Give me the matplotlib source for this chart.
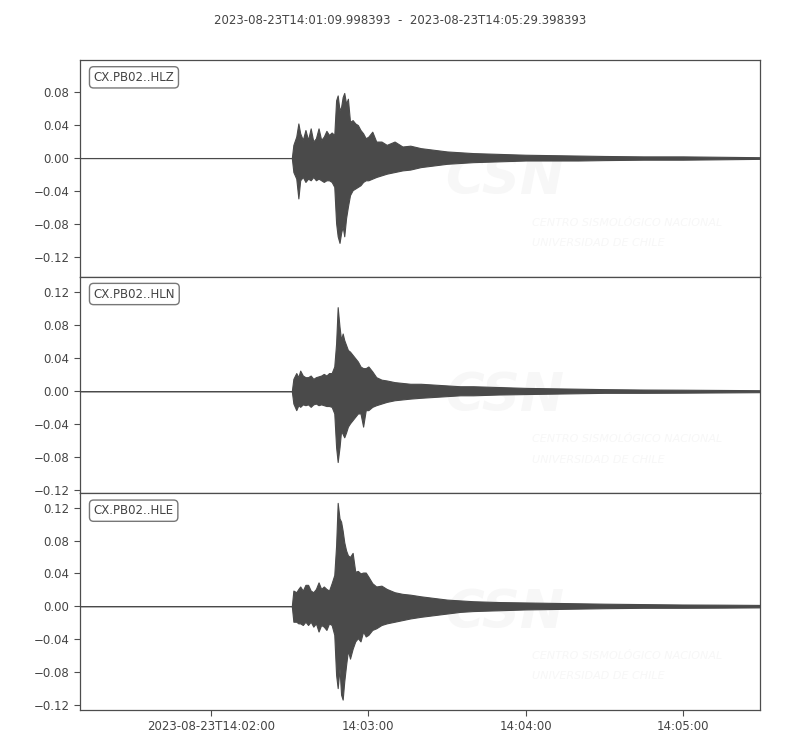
import datetime as dt
import numpy as np
import matplotlib
matplotlib.use("Agg")
import matplotlib.pyplot as plt
import matplotlib.dates as mdates
from matplotlib.ticker import MultipleLocator, FuncFormatter

# ---------------- data ----------------
start = dt.datetime(2023, 8, 23, 14, 1, 9, 998393)
duration_s = 259.4
title_text = "2023-08-23T14:01:09.998393  -  2023-08-23T14:05:29.398393"
channels = ["CX.PB02..HLZ", "CX.PB02..HLN", "CX.PB02..HLE"]

# seconds since start at which the envelope was read
t_sec = [0.0, 80.8, 81.4, 82.5, 83.3, 84.0, 85.0, 86.0, 87.0, 88.0, 89.0, 90.0,
         91.0, 92.0, 93.0, 94.0, 95.0, 96.0, 97.0, 97.7, 98.3, 99.0, 99.6, 100.2,
         100.8, 101.5, 102.2, 103.0, 104.0, 105.0, 106.0, 107.0, 108.0, 109.0,
         110.0, 111.5, 113.0, 115.0, 117.0, 120.0, 123.0, 126.0, 130.0, 135.0,
         140.0, 145.0, 150.0, 160.0, 170.0, 180.0, 190.0, 200.0, 215.0, 230.0,
         245.0, 259.4]

hlz_up = [0, 0, 0.016, 0.026, 0.042, 0.030, 0.022, 0.034, 0.022, 0.036, 0.020, 0.024,
          0.036, 0.022, 0.026, 0.033, 0.028, 0.031, 0.028, 0.070, 0.076, 0.058, 0.062,
          0.074, 0.079, 0.066, 0.072, 0.044, 0.046, 0.042, 0.040, 0.034, 0.030, 0.024,
          0.026, 0.032, 0.020, 0.020, 0.016, 0.020, 0.014, 0.015, 0.012, 0.010, 0.008,
          0.007, 0.006, 0.005, 0.004, 0.0035, 0.003, 0.0025, 0.002, 0.002, 0.0015, 0.001]
hlz_lo = [0, 0, -0.017, -0.025, -0.049, -0.027, -0.023, -0.029, -0.025, -0.027, -0.023,
          -0.027, -0.025, -0.027, -0.029, -0.027, -0.027, -0.029, -0.035, -0.079, -0.095,
          -0.103, -0.091, -0.083, -0.095, -0.073, -0.059, -0.045, -0.039, -0.037, -0.035,
          -0.033, -0.029, -0.027, -0.027, -0.025, -0.023, -0.021, -0.019, -0.017, -0.015,
          -0.014, -0.011, -0.009, -0.007, -0.006, -0.005, -0.004, -0.003, -0.003, -0.003,
          -0.0025, -0.002, -0.002, -0.0015, -0.001]

hln_up = [0, 0, 0.015, 0.022, 0.017, 0.025, 0.019, 0.017, 0.017, 0.019, 0.015, 0.017,
          0.018, 0.019, 0.021, 0.019, 0.022, 0.022, 0.030, 0.058, 0.102, 0.078, 0.062,
          0.070, 0.062, 0.056, 0.050, 0.048, 0.044, 0.040, 0.036, 0.030, 0.028, 0.028,
          0.030, 0.024, 0.017, 0.014, 0.013, 0.011, 0.010, 0.009, 0.009, 0.008, 0.007,
          0.006, 0.006, 0.005, 0.004, 0.0035, 0.003, 0.0025, 0.002, 0.0018, 0.0015, 0.0012]
hln_lo = [0, 0, -0.015, -0.023, -0.017, -0.019, -0.016, -0.017, -0.016, -0.019, -0.016,
          -0.015, -0.017, -0.016, -0.017, -0.018, -0.018, -0.019, -0.027, -0.068, -0.086,
          -0.068, -0.048, -0.052, -0.056, -0.050, -0.043, -0.039, -0.035, -0.031, -0.027,
          -0.027, -0.043, -0.023, -0.023, -0.019, -0.017, -0.015, -0.013, -0.011, -0.010,
          -0.009, -0.008, -0.007, -0.006, -0.005, -0.005, -0.004, -0.0035, -0.003, -0.0025,
          -0.002, -0.002, -0.0018, -0.0015, -0.0012]

hle_up = [0, 0, 0.019, 0.017, 0.021, 0.024, 0.019, 0.026, 0.026, 0.019, 0.017, 0.021,
          0.029, 0.021, 0.024, 0.021, 0.019, 0.028, 0.038, 0.074, 0.126, 0.107, 0.103,
          0.092, 0.078, 0.068, 0.062, 0.060, 0.065, 0.042, 0.043, 0.040, 0.041, 0.041,
          0.036, 0.028, 0.024, 0.025, 0.021, 0.017, 0.015, 0.014, 0.012, 0.010, 0.008,
          0.007, 0.006, 0.005, 0.0045, 0.004, 0.0035, 0.003, 0.0025, 0.002, 0.0018, 0.0015]
hle_lo = [0, 0, -0.019, -0.019, -0.021, -0.021, -0.023, -0.019, -0.023, -0.019, -0.025,
          -0.021, -0.031, -0.023, -0.025, -0.029, -0.021, -0.023, -0.035, -0.084, -0.100,
          -0.076, -0.108, -0.114, -0.092, -0.072, -0.054, -0.064, -0.052, -0.043, -0.039,
          -0.043, -0.031, -0.037, -0.035, -0.029, -0.027, -0.023, -0.021, -0.019, -0.017,
          -0.015, -0.013, -0.011, -0.009, -0.007, -0.006, -0.005, -0.004, -0.0035, -0.003,
          -0.0025, -0.002, -0.002, -0.0018, -0.0015]

y_limits = [(-0.144, 0.119), (-0.124, 0.139), (-0.1267, 0.1376)]
# -------------------------------------

wave_color = "#4a4a4a"
text_color = "#444444"
spine_color = "#4d4d4d"
wm_color = "#f7f7f7"

plt.rcParams["font.family"] = ["DejaVu Sans"]
plt.rcParams["font.size"] = 8.5

fig = plt.figure(figsize=(8, 7.5), dpi=100)
left, right, top, bottom = 0.1, 0.95, 0.92, 0.0533
h = (top - bottom) / 3.0

x0 = mdates.date2num(start)
xs = x0 + np.asarray(t_sec) / 86400.0
x_end = x0 + duration_s / 86400.0

series = [(hlz_up, hlz_lo), (hln_up, hln_lo), (hle_up, hle_lo)]

axes = []
for i, (ch, (up, lo), yl) in enumerate(zip(channels, series, y_limits)):
    ax = fig.add_axes([left, top - (i + 1) * h, right - left, h],
                      sharex=axes[0] if axes else None)
    axes.append(ax)
    ax.fill_between(xs, lo, up, facecolor=wave_color, edgecolor=wave_color,
                    linewidth=0.8, zorder=3)
    ax.set_xlim(x0, x_end)
    ax.set_ylim(*yl)
    ax.yaxis.set_major_locator(MultipleLocator(0.04))
    for s in ax.spines.values():
        s.set_color(spine_color)
        s.set_linewidth(0.9)
    ax.tick_params(axis="both", colors=spine_color, labelcolor=text_color,
                   labelsize=8.5, length=4, width=0.8, direction="out")
    ax.text(0.02, 0.95, ch, transform=ax.transAxes, ha="left", va="top",
            fontsize=8.5, color=text_color, zorder=5,
            bbox=dict(boxstyle="round,pad=0.35", facecolor="white",
                      edgecolor="#777777", linewidth=1.0))
    # faint watermark
    ax.text(0.625, 0.45, "CSN", transform=ax.transAxes, ha="center", va="center",
            fontsize=38, fontweight="bold", fontstyle="italic", color=wm_color,
            zorder=1, clip_on=True)
    ax.text(0.665, 0.25, "CENTRO SISMOLÓGICO NACIONAL", transform=ax.transAxes,
            ha="left", va="center", fontsize=8, fontstyle="italic",
            color=wm_color, zorder=1, clip_on=True)
    ax.text(0.665, 0.155, "UNIVERSIDAD DE CHILE", transform=ax.transAxes,
            ha="left", va="center", fontsize=8, fontstyle="italic",
            color=wm_color, zorder=1, clip_on=True)
    if i < 2:
        ax.tick_params(axis="x", bottom=False, labelbottom=False)

axb = axes[-1]
axb.xaxis.set_major_locator(mdates.MinuteLocator())


def fmt(x, pos):
    d = mdates.num2date(x)
    if pos == 0:
        return d.strftime("%Y-%m-%dT%H:%M:%S")
    return d.strftime("%H:%M:%S")


axb.xaxis.set_major_formatter(FuncFormatter(fmt))

fig.text(0.5, 1 - 20 / 750, title_text, ha="center", va="center",
         fontsize=8.5, color=text_color)

fig.savefig("out.png", dpi=100)
